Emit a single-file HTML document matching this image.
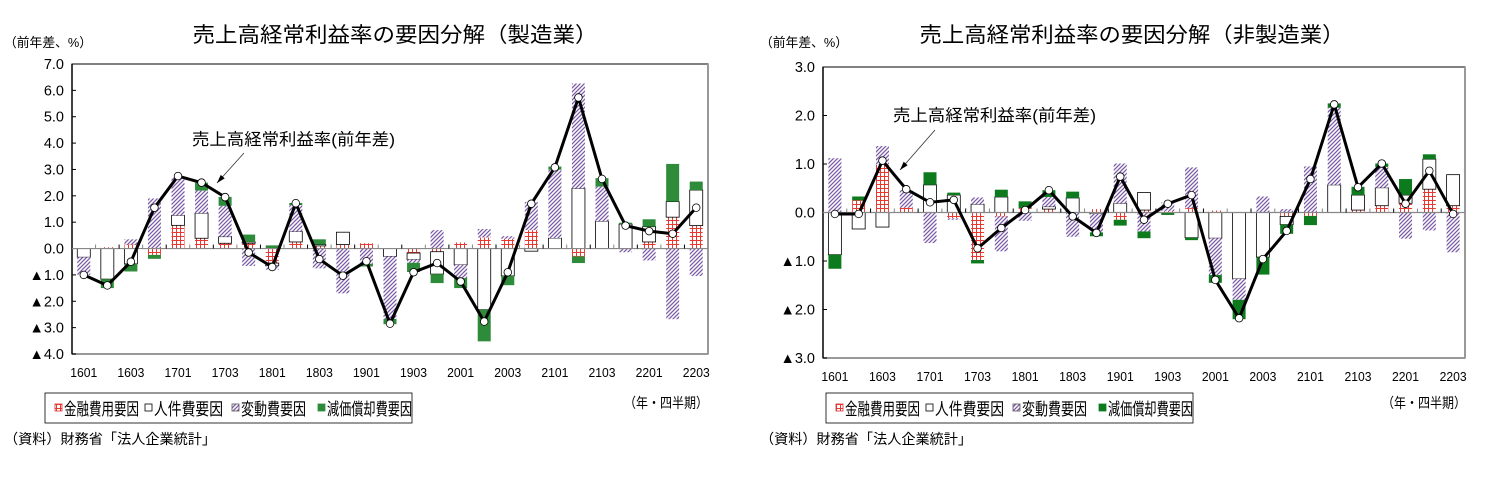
<!DOCTYPE html>
<html><head><meta charset="utf-8">
<style>
body{margin:0;background:#fff;width:1492px;height:475px;overflow:hidden;font-family:"Liberation Sans","Noto Sans CJK JP",sans-serif;}
svg text{font-family:"Liberation Sans","Noto Sans CJK JP",sans-serif;}
</style></head><body>
<svg id="s" width="1492" height="475">
<defs>
<pattern id="pRed" width="4" height="4" patternUnits="userSpaceOnUse"><rect width="4" height="4" fill="#fff"/><path d="M0 0.5H4M0.5 0V4" stroke="#e8382f" stroke-width="1"/></pattern>
<pattern id="pPur" width="4" height="4" patternUnits="userSpaceOnUse"><rect width="4" height="4" fill="#fff"/><path d="M-1 1L1 -1M0 4L4 0M3 5L5 3" stroke="#7a5aa8" stroke-width="1.3"/></pattern>
</defs>
</svg>
<script>
const categories=["1601","1602","1603","1604","1701","1702","1703","1704","1801","1802","1803","1804","1901","1902","1903","1904","2001","2002","2003","2004","2101","2102","2103","2104","2201","2202","2203"];
const tickLabels=["1601","1603","1701","1703","1801","1803","1901","1903","2001","2003","2101","2103","2201","2203"];
// Manufacturing
const mfgFinance=[0,0.05,0.15,-0.24,0.88,0.39,0.2,0.2,-0.55,0.25,0.1,0.15,0.2,0,-0.17,-0.12,0.23,0.42,0.37,0.7,0,-0.3,0,0,0.25,1.19,0.87];
const mfgLabor=[-0.33,-1.16,-0.58,0,0.38,0.95,0.25,0.05,-0.1,0.4,0.05,0.47,0,-0.3,-0.25,-0.85,-0.62,-2.32,-1.04,-0.1,0.4,2.28,1.04,0.93,0.58,0.59,1.35];
const mfgVariable=[-0.67,0,0.2,1.9,1.44,0.86,1.17,-0.66,-0.15,1.0,-0.75,-1.7,-0.58,-2.37,-0.12,0.7,-0.5,0.32,0.1,1.07,2.59,3.98,1.31,-0.14,-0.45,-2.68,-1.04];
const mfgDepr=[0,-0.34,-0.29,-0.15,0,0.3,0.34,0.28,0.12,0.08,0.2,0,-0.1,-0.2,-0.35,-0.34,-0.38,-1.2,-0.35,0,0.12,-0.25,0.32,0.05,0.28,1.43,0.32];
const mfgTotal=[-1.0,-1.4,-0.5,1.55,2.75,2.5,1.95,-0.15,-0.7,1.72,-0.4,-1.03,-0.48,-2.85,-0.9,-0.55,-1.25,-2.77,-0.9,1.7,3.08,5.73,2.64,0.87,0.66,0.56,1.55];
const mfgTicks=[7,6,5,4,3,2,1,0,-1,-2,-3,-4];
// Non-manufacturing
const nonFinance=[0,0.25,0.98,0.1,0,-0.12,-0.98,-0.08,0.09,0.07,0,0.07,-0.15,0.05,0.03,0.09,0.04,0,0,-0.08,-0.07,0,0.05,0.14,0.19,0.48,0.14];
const nonLabor=[-0.87,-0.34,-0.3,0,0.57,0.36,0.17,0.32,0,0.05,0.3,-0.03,0.19,0.36,0,-0.52,-0.53,-1.37,-0.92,-0.17,0,0.57,0.31,0.37,0.17,0.62,0.64];
const nonVariable=[1.12,0,0.39,0.36,-0.63,-0.03,0.14,-0.72,-0.17,0.2,-0.5,-0.38,0.82,-0.39,0.18,0.84,-0.76,-0.43,0.33,0.07,0.95,1.59,0,0.43,-0.54,-0.37,-0.82];
const nonDepr=[-0.29,0.08,0,0,0.26,0.05,-0.07,0.15,0.14,0.14,0.13,-0.08,-0.12,-0.14,-0.05,-0.05,-0.16,-0.4,-0.36,-0.19,-0.19,0.09,0.17,0.07,0.33,0.1,0];
const nonTotal=[-0.03,-0.03,1.07,0.48,0.21,0.26,-0.74,-0.32,0.05,0.46,-0.08,-0.42,0.74,-0.15,0.18,0.36,-1.39,-2.18,-0.96,-0.38,0.69,2.23,0.52,1.01,0.18,0.86,-0.03];
const nonTicks=[3,2,1,0,-1,-2,-3];

const NS="http://www.w3.org/2000/svg";
const svg=document.getElementById('s');
function mk(tag,attrs,parent){const e=document.createElementNS(NS,tag);for(const k in attrs)e.setAttribute(k,attrs[k]);(parent||svg).appendChild(e);return e;}
function fmt(v){return v<0?"▲"+Math.abs(v).toFixed(1):v.toFixed(1);}

function drawChart(cfg){
  const g=mk('g',{});
  
  
  const {x0,x1,y0,y1,ymax,ymin}=cfg;
  const ys=v=>y0+(ymax-v)/(ymax-ymin)*(y1-y0);
  const n=categories.length, step=(x1-x0)/n;
  const xc=i=>x0+step*(i+0.5);
  const bw=13;
  const title=mk('text',{x:cfg.tx,y:42,'font-size':21,'text-anchor':'middle',textLength:cfg.tl,lengthAdjust:'spacingAndGlyphs'},g);title.textContent=cfg.title;
  
  const unit=mk('text',{x:cfg.ux,y:47,'font-size':13,textLength:88,lengthAdjust:'spacingAndGlyphs'},g);unit.textContent="（前年差、%）";
  
  mk('rect',{x:x0,y:y0,width:x1-x0,height:y1-y0,fill:'#fff',stroke:'#000','stroke-width':1},g);
  mk('line',{x1:x1,y1:y0,x2:x1,y2:y1,stroke:'#999','stroke-width':2},g);
  mk('line',{x1:x0,y1:y1,x2:x1,y2:y1,stroke:'#999','stroke-width':2},g);
  mk('line',{x1:x0,y1:y0,x2:x0,y2:y1,stroke:'#000','stroke-width':1.5},g);
  cfg.ticks.forEach(t=>{
    const y=ys(t);
    mk('line',{x1:x0,y1:y,x2:x0+4,y2:y,stroke:'#000'},g);
    const tl=mk('text',{x:x0-8,y:y+5,'font-size':14.5,'text-anchor':'end'},g);tl.textContent=fmt(t);
    
  });
  const series=[[cfg.fin,'url(#pRed)','#d33'],[cfg.lab,'#fff','#000'],[cfg.vari,'url(#pPur)','#333'],[cfg.dep,cfg.green,'#1a5e22']];
  const names=['bar-finance','bar-labor','bar-variable','bar-depreciation'];
  for(let i=0;i<n;i++){
    let pos=0,neg=0;
    series.forEach((s,k)=>{
      const v=s[0][i]; if(!v)return;
      let a,b; if(v>0){a=pos;b=pos+v;pos=b;}else{a=neg;b=neg+v;neg=b;}
      const r=mk('rect',{x:xc(i)-bw/2,y:Math.min(ys(a),ys(b)),width:bw,height:Math.abs(ys(a)-ys(b)),fill:s[1],stroke:k==1?'#000':'none','stroke-width':0.8},g);
      
    });
  }
  const zy=ys(0);
  mk('line',{x1:x0,y1:zy,x2:x1,y2:zy,stroke:'#888','stroke-width':1.2},g);
  for(let i=1;i<n;i++){mk('line',{x1:x0+step*i,y1:zy-4,x2:x0+step*i,y2:zy,stroke:i%2==0?'#000':'#888'},g);}
  let d='';cfg.tot.forEach((v,i)=>{d+=(i?'L':'M')+xc(i)+' '+ys(v);});
  const ln=mk('path',{d:d,fill:'none',stroke:'#000','stroke-width':3,'stroke-linejoin':'round'},g);
  
  cfg.tot.forEach((v,i)=>{const c=mk('circle',{cx:xc(i),cy:ys(v),r:3.8,fill:'#fff',stroke:'#000','stroke-width':0.8},g);
    });
  tickLabels.forEach((t,j)=>{const tl=mk('text',{x:xc(j*2),y:y1+23,'font-size':12.5,'text-anchor':'middle',textLength:27,lengthAdjust:'spacingAndGlyphs'},g);tl.textContent=t;
    });
  const an=mk('text',{x:cfg.ax,y:cfg.ay,'font-size':16.5,textLength:203,lengthAdjust:'spacingAndGlyphs'},g);an.textContent="売上高経常利益率(前年差)";
  
  mk('line',{x1:cfg.ar[0],y1:cfg.ar[1],x2:cfg.ar[2],y2:cfg.ar[3],stroke:'#333','stroke-width':0.8},g);
  const ang=Math.atan2(cfg.ar[3]-cfg.ar[1],cfg.ar[2]-cfg.ar[0]);
  const hx=cfg.ar[2],hy=cfg.ar[3];
  mk('path',{d:`M${hx} ${hy}L${hx-9*Math.cos(ang-0.3)} ${hy-9*Math.sin(ang-0.3)}L${hx-9*Math.cos(ang+0.3)} ${hy-9*Math.sin(ang+0.3)}Z`,fill:'#000'},g);
  // legend
  const lg=mk('g',{},g);
  mk('rect',{x:cfg.lx,y:393,width:367,height:30,fill:'#fff',stroke:'#000','stroke-width':0.8},lg);
  const items=[['金融費用要因','url(#pRed)','#d33',10,75],['人件費要因','#fff','#000',100,69],['変動費要因','url(#pPur)','#555',187,65],['減価償却費要因',cfg.green,cfg.green,273,85]];
  items.forEach((it)=>{
    const lx=cfg.lx+it[3];
    const e=mk('g',{},lg);
    mk('rect',{x:lx,y:404,width:7,height:7,fill:it[1],stroke:it[2],'stroke-width':0.8},e);
    const t=mk('text',{x:lx+9,y:415,'font-size':17,textLength:it[4],lengthAdjust:'spacingAndGlyphs'},e);t.textContent=it[0];
  });
  const ql=mk('text',{x:cfg.qx,y:408,'font-size':14,textLength:84,lengthAdjust:'spacingAndGlyphs'},g);ql.textContent="（年・四半期）";
  
  const src=mk('text',{x:cfg.ux,y:444,'font-size':14,textLength:212,lengthAdjust:'spacingAndGlyphs'},g);src.textContent="（資料）財務省「法人企業統計」";
  
}
drawChart({name:'chart-manufacturing',title:'売上高経常利益率の要因分解（製造業）',tx:395,tl:405,ux:4,x0:72,x1:708,y0:64,y1:354,ymax:7,ymin:-4,ticks:mfgTicks,
  fin:mfgFinance,lab:mfgLabor,vari:mfgVariable,dep:mfgDepr,tot:mfgTotal,ax:192,ay:145,ar:[244,153,217,183],lx:45,qx:624,green:'#2e8b3a'});
drawChart({name:'chart-non-manufacturing',title:'売上高経常利益率の要因分解（非製造業）',tx:1132,tl:425,ux:760,x0:823,x1:1465,y0:67,y1:358,ymax:3,ymin:-3,ticks:nonTicks,
  fin:nonFinance,lab:nonLabor,vari:nonVariable,dep:nonDepr,tot:nonTotal,ax:893,ay:121,ar:[935,130,900,170],lx:826,qx:1382,green:'#0e7a1e'});
</script>
</body></html>
